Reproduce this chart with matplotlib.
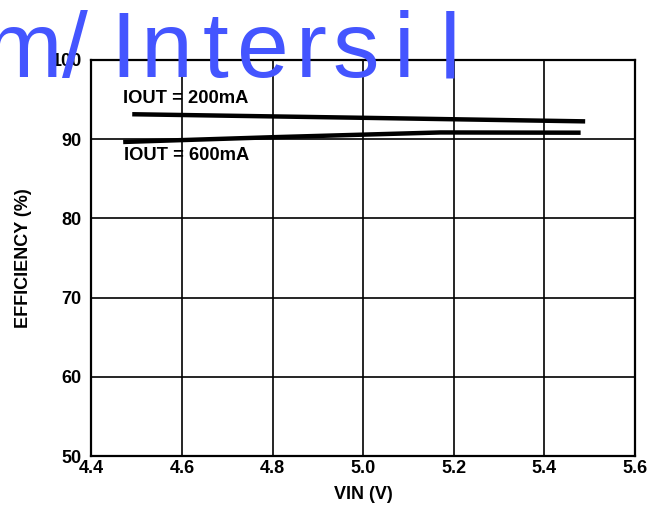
import matplotlib
matplotlib.use("Agg")
import matplotlib.pyplot as plt
from matplotlib import font_manager

# efficiency vs input voltage
vin_200 = [4.49, 5.00, 5.49]
eff_200 = [93.15, 92.70, 92.25]
vin_600 = [4.47, 4.80, 5.17, 5.48]
eff_600 = [89.65, 90.25, 90.85, 90.82]

x_ticks = [4.4, 4.6, 4.8, 5.0, 5.2, 5.4, 5.6]
y_ticks = [50, 60, 70, 80, 90, 100]

label_200 = "IOUT = 200mA"
label_600 = "IOUT = 600mA"
watermark = "om/Intersil"

FONT = ["Liberation Sans", "DejaVu Sans"]
names = {f.name for f in font_manager.fontManager.ttflist}
WM_FONT = ["Liberation Sans Narrow"] if "Liberation Sans Narrow" in names else FONT

plt.rcParams["font.family"] = FONT

fig = plt.figure(figsize=(6.6, 5.14), dpi=100)
ax = fig.add_axes([0.1386, 0.1128, 0.8235, 0.7705])

ax.plot(vin_200, eff_200, color="black", lw=3.2, solid_capstyle="butt", zorder=3)
ax.plot(vin_600, eff_600, color="black", lw=3.2, solid_capstyle="butt", zorder=3)

ax.text(4.47, 95.2, label_200, fontsize=13.2, fontweight="bold", va="center", ha="left")
ax.text(4.472, 87.9, label_600, fontsize=13.2, fontweight="bold", va="center", ha="left")

ax.set_xlim(4.4, 5.6)
ax.set_ylim(50, 100)
ax.set_xticks(x_ticks)
ax.set_xticklabels([f"{v:.1f}" for v in x_ticks])
ax.set_yticks(y_ticks)
ax.tick_params(length=0, labelsize=13)
ax.tick_params(axis="y", pad=7)
ax.tick_params(axis="x", pad=3)
for lbl in ax.get_xticklabels() + ax.get_yticklabels():
    lbl.set_fontweight("bold")
ax.grid(True, color="black", lw=1.2)
for sp in ax.spines.values():
    sp.set_linewidth(1.6)

ax.set_xlabel("VIN (V)", fontsize=13, fontweight="bold", labelpad=6)
ax.set_ylabel("EFFICIENCY (%)", fontsize=13, fontweight="bold", labelpad=14)

# watermark: letters spread out, left part clipped by the page edge
wm_x = [-24, 24, 75, 123, 167, 215, 263, 311, 356, 404, 450]
for ch, px in zip(watermark, wm_x):
    fig.text(px / 660, 1 - 77 / 514, ch, color="#4455ff", fontsize=67,
             family=WM_FONT, ha="center", va="baseline", zorder=10)

fig.savefig("out.png", dpi=100)
